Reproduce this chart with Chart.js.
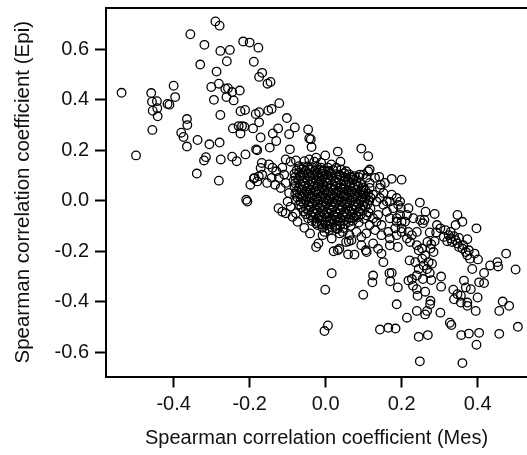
<!DOCTYPE html>
<html>
<head>
<meta charset="utf-8">
<script src="https://cdn.jsdelivr.net/npm/chart.js@4.4.0/dist/chart.umd.min.js"></script>
<style>
  html, body { margin: 0; padding: 0; background: #fff; }
</style>
</head>
<body>
<canvas id="myChart" width="527" height="455"></canvas>
<script>
// [Mes, Epi] pairs
const upperLeft = [
  [-0.537,0.428],[-0.499,0.180],[-0.459,0.427],[-0.457,0.393],[-0.455,0.357],[-0.456,0.281],[-0.444,0.395],[-0.443,0.367],[-0.442,0.335],
  [-0.400,0.456],[-0.396,0.411],[-0.416,0.384],[-0.411,0.381],[-0.380,0.270],[-0.374,0.253],[-0.365,0.215],[-0.365,0.324],[-0.364,0.300],
  [-0.356,0.660],[-0.337,0.241],[-0.339,0.108],[-0.330,0.540],[-0.319,0.618],[-0.320,0.160],[-0.315,0.173],[-0.306,0.224],[-0.301,0.451],
  [-0.294,0.400],[-0.290,0.711],[-0.279,0.694],[-0.287,0.512],[-0.281,0.464],[-0.277,0.594],[-0.277,0.340],[-0.279,0.231],[-0.276,0.164],
  [-0.281,0.080],[-0.264,0.444],[-0.257,0.446],[-0.261,0.411],[-0.246,0.431],[-0.242,0.398],[-0.260,0.553],[-0.252,0.598],[-0.246,0.175],
  [-0.234,0.157],[-0.244,0.287],[-0.226,0.437],[-0.229,0.296],[-0.224,0.267],[-0.220,0.296],[-0.214,0.294],[-0.224,0.355],[-0.212,0.360],
  [-0.217,0.631],[-0.200,0.627],[-0.177,0.607],[-0.211,0.184],[-0.209,0.004],[-0.206,-0.003],[-0.191,0.287],[-0.189,0.551],[-0.184,0.344],
  [-0.175,0.351],[-0.183,0.204],[-0.180,0.200],[-0.175,0.311],[-0.171,0.251],[-0.175,0.491],[-0.167,0.507],[-0.168,0.150],[-0.171,0.130],
  [-0.153,0.464],[-0.145,0.471],[-0.151,0.358],[-0.142,0.364],[-0.122,0.387],[-0.139,0.267],[-0.130,0.237],[-0.147,0.211],[-0.125,0.287],
  [-0.102,0.328],[-0.096,0.264],[-0.081,0.291],[-0.094,0.204],[-0.198,0.064],[-0.189,0.088],[-0.180,0.077],[-0.124,-0.029],[-0.114,-0.043],
  [-0.046,0.283],[-0.043,0.247],[-0.039,0.244],[-0.037,0.213],[-0.001,0.180],[0.032,0.195],[0.039,0.155],[0.094,0.207],[0.112,0.177],
  [0.099,0.104],[0.116,0.124],[0.141,0.095],[0.145,0.064],[0.174,0.087],[0.200,0.084]
];

const lowerRight = [
  [-0.056,-0.107],[-0.041,-0.129],[-0.025,-0.183],[-0.019,-0.169],[-0.008,-0.136],[0.016,-0.149],[0.021,-0.200],[0.032,-0.196],[0.036,-0.190],
  [0.016,-0.287],[-0.001,-0.352],[-0.003,-0.516],[0.006,-0.494],[0.059,-0.212],[0.076,-0.213],[0.061,-0.160],[0.099,-0.372],[0.106,-0.196],
  [0.108,-0.203],[0.125,-0.296],[0.123,-0.323],[0.138,-0.190],[0.147,-0.209],[0.152,-0.243],[0.168,-0.287],[0.174,-0.286],[0.170,-0.319],
  [0.143,-0.510],[0.165,-0.503],[0.184,-0.506],[0.187,-0.410],[0.190,-0.343],[0.190,-0.183],[0.214,-0.463],[0.218,-0.316],[0.227,-0.310],
  [0.245,-0.539],[0.248,-0.636],[0.269,-0.532],[0.240,-0.436],[0.267,-0.436],[0.262,-0.450],[0.275,-0.410],[0.276,-0.396],[0.302,-0.443],
  [0.304,-0.300],[0.304,-0.340],[0.327,-0.483],[0.331,-0.492],[0.336,-0.352],[0.338,-0.390],[0.347,-0.370],[0.356,-0.376],[0.357,-0.532],
  [0.360,-0.643],[0.364,-0.316],[0.369,-0.343],[0.356,-0.403],[0.373,-0.403],[0.377,-0.526],[0.373,-0.416],[0.382,-0.350],[0.386,-0.270],
  [0.395,-0.436],[0.397,-0.570],[0.404,-0.523],[0.400,-0.383],[0.404,-0.323],[0.417,-0.326],[0.417,-0.286],[0.433,-0.256],[0.454,-0.260],
  [0.452,-0.243],[0.457,-0.527],[0.457,-0.436],[0.466,-0.399],[0.483,-0.416],[0.475,-0.209],[0.500,-0.272],[0.506,-0.499],[0.397,-0.109],
  [0.347,-0.056],[0.360,-0.083],[0.248,-0.007],[0.263,-0.043],[0.287,-0.052],[0.169,-0.176],[0.125,-0.169],[0.094,-0.176]
];

const fringe = [
  [-0.105,0.164],[-0.092,0.155],[-0.078,0.160],[-0.056,0.157],[-0.043,0.164],[-0.030,0.155],[-0.149,0.144],[-0.140,0.131],[-0.130,0.117],
  [-0.142,0.091],[-0.154,0.071],[-0.133,0.064],[-0.118,0.051],[-0.167,0.104],[-0.176,0.097],[-0.187,0.091],[-0.114,0.131],[-0.123,0.091],
  [-0.109,0.104],[-0.105,0.071],[-0.096,0.031],[-0.100,-0.003],[-0.092,-0.023],[-0.105,-0.049],[-0.087,-0.063],[-0.074,-0.083],[-0.078,-0.049],
  [-0.025,-0.089],[-0.003,-0.123],[0.028,-0.109],[0.045,-0.123],[0.063,-0.136],[0.081,-0.123],[0.094,-0.143],[0.107,-0.129],[0.054,-0.163],
  [0.068,-0.156],[0.037,-0.129],[0.010,-0.116],
  [0.116,0.051],[0.125,0.024],[0.134,-0.003],[0.143,0.011],[0.152,-0.016],[0.161,-0.043],[0.169,-0.069],[0.178,-0.029],[0.187,-0.083],
  [0.196,-0.056],[0.183,-0.109],[0.165,-0.123],[0.147,-0.096],[0.134,-0.083],[0.161,-0.003],[0.174,0.024],[0.152,0.031],[0.143,0.051],
  [0.156,0.071],[0.169,-0.003],[0.191,-0.016],[0.200,-0.123],[0.209,-0.083],[0.196,-0.003],[0.198,-0.029],[0.187,0.011],[0.138,-0.056],
  [0.125,-0.069],[0.116,-0.096],[0.130,-0.116],[0.147,-0.136],[0.169,-0.149],[0.187,-0.136],[0.187,-0.069],[0.214,-0.056],[0.218,-0.029],
  [0.072,0.091],[0.081,0.077],[0.090,0.104],[0.107,0.091],[0.112,0.117],[0.085,0.057],[0.099,0.044],[0.116,0.071],[0.130,0.091],
  [-0.025,0.171],[-0.012,0.151],[0.015,0.144],[0.028,0.131],[0.041,0.124],[0.054,0.117],[0.036,0.104],[0.006,0.131],[-0.008,0.117]
];

const midRight = [
  [0.231,-0.069],[0.249,-0.076],[0.260,-0.076],[0.256,-0.089],[0.240,-0.123],[0.218,-0.123],[0.227,-0.136],[0.214,-0.149],[0.222,-0.163],
  [0.240,-0.176],[0.245,-0.196],[0.254,-0.189],[0.262,-0.216],[0.276,-0.189],[0.284,-0.203],[0.271,-0.243],[0.280,-0.249],[0.258,-0.256],
  [0.245,-0.270],[0.236,-0.243],[0.254,-0.229],[0.267,-0.270],[0.274,-0.286],[0.240,-0.296],[0.256,-0.310],[0.278,-0.314],[0.221,-0.236],
  [0.268,-0.163],[0.278,-0.172],[0.287,-0.160],[0.274,-0.125],[0.200,-0.109],[0.200,-0.083],[0.240,-0.350],[0.242,-0.376],[0.262,-0.360],
  [0.230,-0.336],
  [0.315,-0.116],[0.324,-0.136],[0.329,-0.149],[0.333,-0.163],[0.342,-0.156],[0.347,-0.169],[0.351,-0.183],[0.360,-0.189],[0.369,-0.203],
  [0.373,-0.216],[0.377,-0.196],[0.392,-0.209],[0.401,-0.232],[0.380,-0.229],[0.362,-0.176],[0.373,-0.152],[0.320,-0.160],[0.338,-0.140],
  [0.351,-0.147],[0.293,-0.096],[0.302,-0.109],[0.291,-0.125],[0.311,-0.143],[0.329,-0.123],[0.342,-0.096]
];

const core = [
  [-0.070,0.137],[-0.058,0.133],[-0.047,0.136],[-0.035,0.132],[-0.023,0.135],[-0.012,0.131],
  [-0.076,0.121],[-0.064,0.124],[-0.053,0.120],[-0.041,0.123],[-0.028,0.119],[-0.017,0.124],[-0.004,0.121],[0.008,0.118],[0.020,0.122],
  [-0.082,0.107],[-0.070,0.110],[-0.059,0.106],[-0.046,0.109],[-0.034,0.105],[-0.022,0.110],[-0.011,0.107],[0.002,0.104],[0.014,0.108],[0.027,0.106],[0.049,0.109],[0.062,0.105],
  [-0.080,0.094],[-0.068,0.097],[-0.056,0.093],[-0.044,0.096],[-0.031,0.092],[-0.020,0.097],[-0.008,0.094],[0.005,0.091],[0.016,0.096],[0.029,0.093],[0.040,0.097],[0.052,0.092],[0.065,0.095],[0.076,0.098],[0.088,0.094],
  [-0.084,0.080],[-0.072,0.083],[-0.060,0.079],[-0.047,0.082],[-0.036,0.078],[-0.024,0.083],[-0.012,0.080],[0.001,0.077],[0.012,0.082],[0.025,0.079],[0.036,0.084],[0.048,0.080],[0.061,0.078],[0.072,0.083],
  [-0.080,0.069],[-0.067,0.066],[-0.056,0.070],[-0.043,0.065],[-0.032,0.068],[-0.019,0.071],[-0.008,0.066],[0.005,0.069],[0.016,0.065],[0.028,0.070],[0.041,0.067],[0.052,0.064],[0.064,0.069],[0.077,0.066],[0.092,0.070],
  [-0.082,0.055],[-0.070,0.052],[-0.057,0.056],[-0.046,0.051],[-0.033,0.054],[-0.022,0.057],[-0.009,0.052],[0.002,0.055],[0.015,0.051],[0.026,0.056],[0.039,0.053],[0.050,0.050],[0.063,0.055],[0.074,0.052],[0.087,0.057],[0.100,0.053],
  [-0.076,0.040],[-0.064,0.043],[-0.051,0.039],[-0.040,0.042],[-0.027,0.038],[-0.016,0.043],[-0.003,0.040],[0.008,0.037],[0.021,0.042],[0.032,0.039],[0.045,0.044],[0.056,0.040],[0.069,0.038],[0.080,0.043],[0.093,0.039],[0.104,0.042],
  [-0.080,0.028],[-0.068,0.025],[-0.055,0.029],[-0.044,0.024],[-0.031,0.027],[-0.020,0.030],[-0.007,0.025],[0.004,0.028],[0.017,0.024],[0.028,0.029],[0.041,0.026],[0.052,0.023],[0.065,0.028],[0.076,0.025],[0.089,0.030],[0.100,0.026],[0.112,0.028],
  [-0.074,0.013],[-0.062,0.016],[-0.049,0.012],[-0.038,0.015],[-0.025,0.011],[-0.014,0.016],[-0.001,0.013],[0.010,0.010],[0.023,0.015],[0.034,0.012],[0.047,0.017],[0.058,0.013],[0.071,0.011],[0.082,0.016],[0.095,0.012],[0.106,0.015],[0.118,0.013],
  [-0.078,0.001],[-0.066,-0.002],[-0.053,0.002],[-0.042,-0.003],[-0.029,0.000],[-0.018,0.003],[-0.005,-0.002],[0.006,0.001],[0.019,-0.003],[0.030,0.002],[0.043,-0.001],[0.054,-0.004],[0.067,0.001],[0.078,-0.002],[0.091,0.003],[0.102,-0.001],[0.115,0.001],
  [-0.070,-0.015],[-0.058,-0.012],[-0.045,-0.016],[-0.034,-0.011],[-0.021,-0.014],[-0.010,-0.017],[0.003,-0.012],[0.014,-0.015],[0.027,-0.011],[0.038,-0.016],[0.051,-0.013],[0.062,-0.010],[0.075,-0.015],[0.086,-0.012],[0.099,-0.017],[0.110,-0.013],
  [-0.064,-0.026],[-0.052,-0.029],[-0.039,-0.025],[-0.028,-0.030],[-0.015,-0.027],[-0.004,-0.024],[0.009,-0.029],[0.020,-0.026],[0.033,-0.030],[0.044,-0.025],[0.057,-0.028],[0.068,-0.031],[0.081,-0.026],[0.092,-0.029],[0.105,-0.024],[0.118,-0.030],
  [-0.058,-0.042],[-0.046,-0.039],[-0.033,-0.043],[-0.022,-0.038],[-0.009,-0.041],[0.002,-0.044],[0.015,-0.039],[0.026,-0.042],[0.039,-0.038],[0.050,-0.043],[0.063,-0.040],[0.074,-0.037],[0.087,-0.042],[0.098,-0.039],[0.113,-0.046],
  [-0.052,-0.053],[-0.040,-0.056],[-0.027,-0.052],[-0.016,-0.057],[-0.003,-0.054],[0.008,-0.051],[0.021,-0.056],[0.032,-0.053],[0.045,-0.057],[0.056,-0.052],[0.069,-0.055],[0.080,-0.058],[0.093,-0.053],[0.108,-0.058],
  [-0.046,-0.069],[-0.034,-0.066],[-0.021,-0.070],[-0.010,-0.065],[0.003,-0.068],[0.014,-0.071],[0.027,-0.066],[0.038,-0.069],[0.051,-0.065],[0.062,-0.070],[0.075,-0.067],[0.086,-0.064],[0.101,-0.071],
  [-0.036,-0.080],[-0.024,-0.083],[-0.011,-0.079],[0.000,-0.084],[0.013,-0.081],[0.024,-0.078],[0.037,-0.083],[0.048,-0.080],[0.061,-0.084],[0.072,-0.079],[0.087,-0.086],
  [-0.022,-0.096],[-0.010,-0.093],[0.003,-0.097],[0.014,-0.092],[0.027,-0.095],[0.038,-0.098],[0.051,-0.093],[0.066,-0.099],
  [-0.008,-0.107],[0.004,-0.110],[0.017,-0.106],[0.031,-0.112],[0.047,-0.108]
];

const xTicks = [-0.4, -0.2, 0.0, 0.2, 0.4];
const yTicks = [-0.6, -0.4, -0.2, 0.0, 0.2, 0.4, 0.6];
const xTitle = 'Spearman correlation coefficient (Mes)';
const yTitle = 'Spearman correlation coefficient (Epi)';

const points = [...upperLeft, ...fringe, ...core, ...midRight, ...lowerRight].map(p => ({ x: p[0], y: p[1] }));

const FONT = 'Liberation Sans, Arial, Helvetica, sans-serif';

// top edge of the box (left and bottom come from the axis borders)
const topFrame = {
  id: 'topFrame',
  afterDraw(chart) {
    const { ctx, chartArea } = chart;
    ctx.save();
    ctx.strokeStyle = '#000';
    ctx.lineWidth = 2;
    ctx.beginPath();
    ctx.moveTo(chartArea.left - 1, chartArea.top);
    ctx.lineTo(chartArea.right, chartArea.top);
    ctx.stroke();
    ctx.restore();
  }
};

const context = document.getElementById('myChart').getContext('2d');
new Chart(context, {
  type: 'scatter',
  data: {
    datasets: [{
      data: points,
      pointStyle: 'circle',
      pointRadius: 4.3,
      pointBorderWidth: 1.3,
      borderColor: '#000',
      backgroundColor: 'rgba(0,0,0,0)',
    }],
  },
  options: {
    responsive: false,
    maintainAspectRatio: false,
    animation: false,
    layout: { autoPadding: false, padding: { top: 8, right: 0, bottom: 0, left: 0 } },
    plugins: { legend: { display: false }, tooltip: { enabled: false } },
    scales: {
      x: {
        type: 'linear',
        min: -0.578,
        max: 0.53,
        afterBuildTicks: (axis) => { axis.ticks = xTicks.map(v => ({ value: v })); },
        afterFit: (axis) => { axis.height = 78.5; axis.paddingLeft = 0; axis.paddingRight = 0; },
        border: { display: true, color: '#000', width: 2 },
        grid: { drawOnChartArea: false, drawTicks: true, tickLength: 11, tickWidth: 2, tickColor: '#000' },
        ticks: { color: '#111', padding: 5, maxRotation: 0, font: { family: FONT, size: 20 }, callback: v => v.toFixed(1) },
        title: { display: true, text: xTitle, color: '#111', font: { family: FONT, size: 20 }, padding: { top: 4, bottom: 5 } },
      },
      y: {
        type: 'linear',
        min: -0.696,
        max: 0.764,
        afterBuildTicks: (axis) => { axis.ticks = yTicks.map(v => ({ value: v })); },
        afterFit: (axis) => { axis.width = 106; axis.paddingTop = 0; axis.paddingBottom = 0; },
        border: { display: true, color: '#000', width: 2 },
        grid: { drawOnChartArea: false, drawTicks: true, tickLength: 11, tickWidth: 2, tickColor: '#000' },
        ticks: { color: '#111', padding: 6, font: { family: FONT, size: 20 }, callback: v => v.toFixed(1) },
        title: { display: true, text: yTitle, color: '#111', font: { family: FONT, size: 20.5 }, padding: { top: 11, bottom: 11 } },
      },
    },
  },
  plugins: [topFrame],
});
</script>
</body>
</html>
